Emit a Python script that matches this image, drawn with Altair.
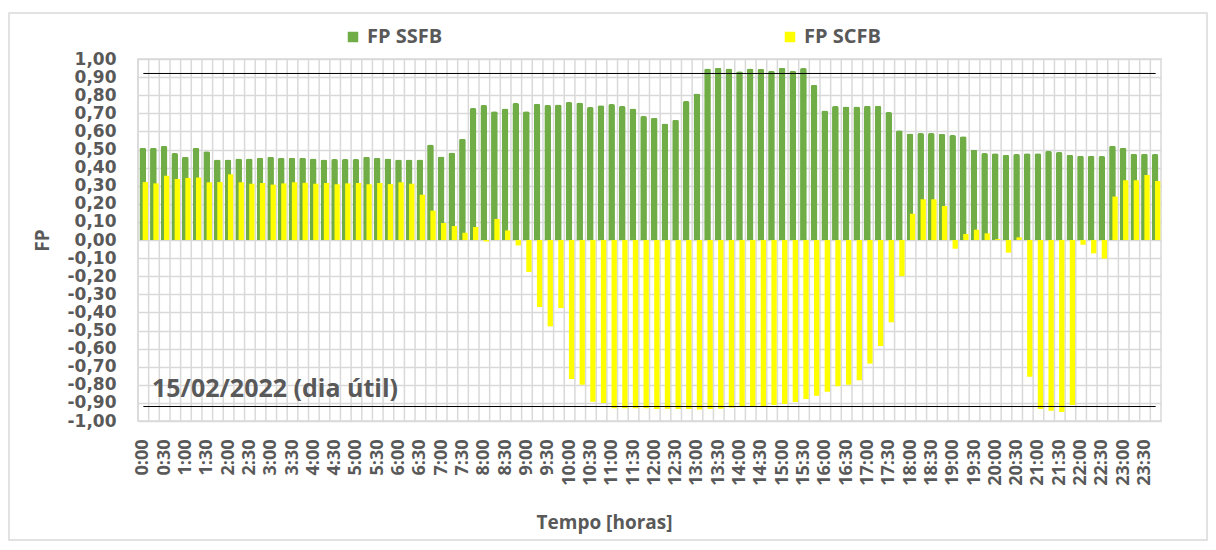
import altair as alt
import pandas as pd

times = [
    "0:00", "0:15", "0:30", "0:45", "1:00", "1:15", "1:30", "1:45",
    "2:00", "2:15", "2:30", "2:45", "3:00", "3:15", "3:30", "3:45",
    "4:00", "4:15", "4:30", "4:45", "5:00", "5:15", "5:30", "5:45",
    "6:00", "6:15", "6:30", "6:45", "7:00", "7:15", "7:30", "7:45",
    "8:00", "8:15", "8:30", "8:45", "9:00", "9:15", "9:30", "9:45",
    "10:00", "10:15", "10:30", "10:45", "11:00", "11:15", "11:30", "11:45",
    "12:00", "12:15", "12:30", "12:45", "13:00", "13:15", "13:30", "13:45",
    "14:00", "14:15", "14:30", "14:45", "15:00", "15:15", "15:30", "15:45",
    "16:00", "16:15", "16:30", "16:45", "17:00", "17:15", "17:30", "17:45",
    "18:00", "18:15", "18:30", "18:45", "19:00", "19:15", "19:30", "19:45",
    "20:00", "20:15", "20:30", "20:45", "21:00", "21:15", "21:30", "21:45",
    "22:00", "22:15", "22:30", "22:45", "23:00", "23:15", "23:30", "23:45",
]

fp_ssfb = [
    0.51, 0.51, 0.52, 0.48, 0.46, 0.51, 0.49, 0.445,
    0.445, 0.45, 0.45, 0.455, 0.46, 0.455, 0.455, 0.455,
    0.45, 0.445, 0.447, 0.447, 0.447, 0.46, 0.455, 0.45,
    0.445, 0.445, 0.445, 0.527, 0.462, 0.484, 0.56, 0.729,
    0.746, 0.711, 0.727, 0.757, 0.711, 0.753, 0.746, 0.748,
    0.762, 0.76, 0.735, 0.744, 0.751, 0.74, 0.727, 0.685,
    0.676, 0.643, 0.665, 0.768, 0.81, 0.948, 0.952, 0.948,
    0.932, 0.948, 0.946, 0.935, 0.952, 0.935, 0.95, 0.858,
    0.716, 0.74, 0.737, 0.738, 0.742, 0.742, 0.707, 0.606,
    0.589, 0.591, 0.591, 0.587, 0.58, 0.573, 0.499, 0.48,
    0.479, 0.471, 0.475, 0.479, 0.479, 0.492, 0.486, 0.471,
    0.466, 0.466, 0.464, 0.521, 0.51, 0.477, 0.477, 0.475,
]

fp_scfb = [
    0.32, 0.313, 0.355, 0.337, 0.343, 0.345, 0.319, 0.32,
    0.363, 0.319, 0.311, 0.315, 0.306, 0.313, 0.319, 0.316,
    0.311, 0.315, 0.308, 0.313, 0.315, 0.308, 0.315, 0.309,
    0.319, 0.311, 0.25, 0.162, 0.094, 0.077, 0.04, 0.072,
    -0.008, 0.116, 0.053, -0.03, -0.177, -0.37, -0.477, -0.376,
    -0.768, -0.80, -0.893, -0.90, -0.93, -0.93, -0.93, -0.93,
    -0.934, -0.932, -0.934, -0.934, -0.936, -0.934, -0.932, -0.925,
    -0.92, -0.92, -0.917, -0.912, -0.906, -0.895, -0.878, -0.86,
    -0.838, -0.808, -0.80, -0.775, -0.683, -0.586, -0.455, -0.20,
    0.145, 0.225, 0.225, 0.188, -0.048, 0.033, 0.057, 0.037,
    0.005, -0.07, 0.015, -0.755, -0.934, -0.943, -0.95, -0.912,
    -0.026, -0.074, -0.103, 0.24, 0.33, 0.33, 0.359, 0.326,
]

y_ticks = [1.0, 0.9, 0.8, 0.7, 0.6, 0.5, 0.4, 0.3, 0.2, 0.1, 0.0,
           -0.1, -0.2, -0.3, -0.4, -0.5, -0.6, -0.7, -0.8, -0.9, -1.0]
ref_levels = [0.92, -0.92]
series_names = ["FP SSFB", "FP SCFB"]
series_colors = ["#70ad47", "#ffff00"]
annotation = ["15/02/2022 (dia útil)"]
annotation_y = [-0.867]

FONT = "Open Sans"
YFONT = "DejaVu Sans"
GRAY = "#595959"
GRID = "#d9d9d9"
W, H = 1023, 362

df = pd.DataFrame({"tempo": times, "FP SSFB": fp_ssfb, "FP SCFB": fp_scfb})
long = df.melt("tempo", var_name="serie", value_name="fp")
grid_df = pd.DataFrame({"tempo": times})
ref_df = pd.DataFrame({"tempo": [times[0]] * len(ref_levels),
                       "tempo_fim": [times[-1]] * len(ref_levels),
                       "fp": ref_levels})
ann_df = pd.DataFrame({"txt": annotation, "fp": annotation_y})
frame_df = pd.DataFrame({"k": [0]})

x_scale = alt.Scale(domain=times, paddingInner=0, paddingOuter=0)
y_scale = alt.Scale(domain=[-1, 1], nice=False, zero=False)
color_scale = alt.Scale(domain=series_names, range=series_colors)

x_axis = alt.Axis(
    labelExpr="isString(datum.value) && (indexof(datum.value, ':15') >= 0 || indexof(datum.value, ':45') >= 0) ? '' : datum.label",
    labelAngle=-90, labelFont=FONT, labelFontSize=18, labelFontWeight="bold",
    labelColor=GRAY, labelPadding=18, labelOverlap=False,
    ticks=False, domain=False, grid=False,
    title="Tempo [horas]", titleFont=FONT, titleFontSize=19, titleFontWeight="bold",
    titleColor=GRAY, titleX=466, titleY=101, titleAlign="center", titleBaseline="middle",
)
y_axis = alt.Axis(
    values=y_ticks,
    labelExpr="isNumber(datum.value) ? ((datum.value < -0.001 ? '-' : '') + replace(format(abs(datum.value), '.2f'), '.', ',')) : ''",
    labelFont=YFONT, labelFontSize=17, labelFontWeight="bold", labelColor=GRAY,
    labelPadding=22, labelOverlap=False, labelFlush=False,
    ticks=False, domain=False, grid=True, gridColor=GRID, gridWidth=1.5,
    title="FP", titleFont=FONT, titleFontSize=19, titleFontWeight="bold", titleColor=GRAY,
    titleX=-96, titleY=H / 2, titleAngle=-90, titleAlign="center", titleBaseline="middle",
)

x_enc = alt.X("tempo:N", scale=x_scale, axis=x_axis)
y_enc = alt.Y("fp:Q", scale=y_scale, axis=y_axis)

legend = alt.Legend(
    orient="none", legendX=205, legendY=-32, direction="horizontal", title=None,
    symbolType="square", symbolSize=110, symbolStrokeWidth=0,
    labelFont=FONT, labelFontSize=20, labelFontWeight="bold", labelColor=GRAY,
    labelOffset=4, columnPadding=337, padding=0,
)
color_enc = alt.Color("serie:N", scale=color_scale, legend=legend)

frame = alt.Chart(frame_df).mark_rect(fill="transparent", stroke=GRID, strokeWidth=1.5).encode(
    x=alt.value(-129), x2=alt.value(1069), y=alt.value(-46), y2=alt.value(481)
)

vgrid = alt.Chart(grid_df).mark_rule(color=GRID, strokeWidth=1.5).encode(
    x=alt.X("tempo:N", scale=x_scale, axis=x_axis, bandPosition=0),
    y=alt.value(0), y2=alt.value(H),
)

green = alt.Chart(long).transform_filter(alt.datum.serie == "FP SSFB").mark_bar(
    size=6.7, xOffset=-0.6, cornerRadiusEnd=2
).encode(x=x_enc, y=y_enc, color=color_enc)

yellow = alt.Chart(long).transform_filter(alt.datum.serie == "FP SCFB").mark_bar(
    size=5.3, xOffset=2
).encode(x=x_enc, y=y_enc, color=color_enc)

rules = alt.Chart(ref_df).mark_rule(color="#000000", strokeWidth=1).encode(
    x=x_enc, x2="tempo_fim:N", y=y_enc,
)

text = alt.Chart(ann_df).mark_text(
    align="left", baseline="alphabetic", font=FONT, fontSize=25,
    fontWeight="bold", color=GRAY
).encode(
    x=alt.value(14), y=y_enc, text="txt:N",
)

chart = alt.layer(frame, vgrid, green, yellow, rules, text).properties(
    width=W, height=H,
    autosize=alt.AutoSizeParams(type="none"),
    padding={"left": 130, "top": 51, "right": 47, "bottom": 121},
).configure_view(stroke=GRID, strokeWidth=1.5)

chart.save("out.html", embed_options={"renderer": "svg", "actions": False})
